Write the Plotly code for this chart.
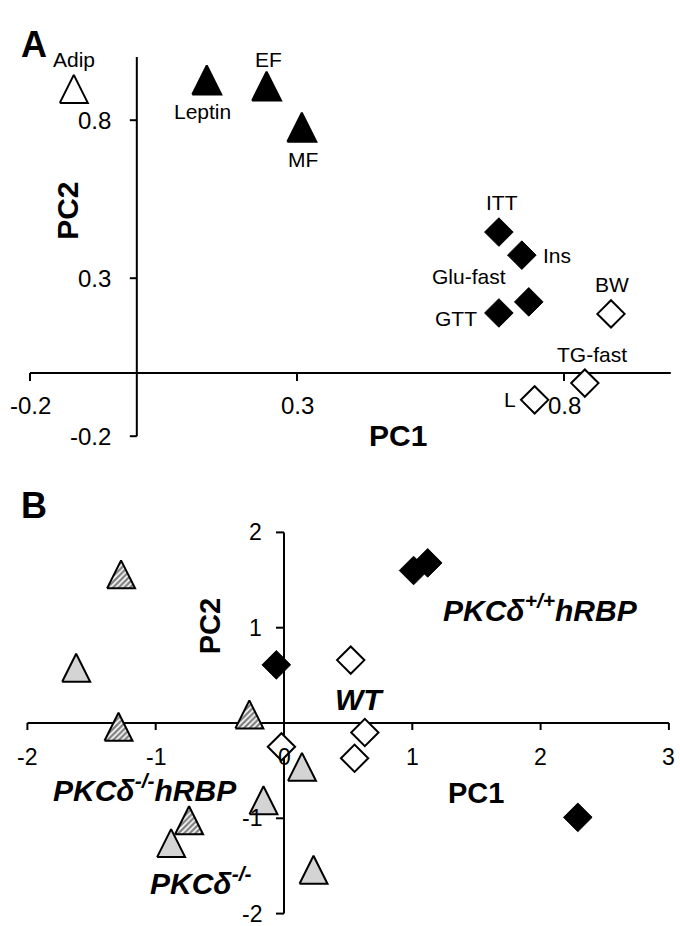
import plotly.graph_objects as go

# ---------------- DATA ----------------
# Panel A: loadings
A_tri_filled_names = ["Leptin", "EF", "MF"]
A_tri_filled_pc1 = [0.131, 0.243, 0.309]
A_tri_filled_pc2 = [0.927, 0.908, 0.778]

A_tri_open_names = ["Adip"]
A_tri_open_pc1 = [-0.118]
A_tri_open_pc2 = [0.899]

A_dia_filled_names = ["ITT", "Ins", "Glu-fast", "GTT"]
A_dia_filled_pc1 = [0.678, 0.721, 0.734, 0.678]
A_dia_filled_pc2 = [0.446, 0.373, 0.225, 0.190]

A_dia_open_names = ["BW", "TG-fast", "L"]
A_dia_open_pc1 = [0.888, 0.839, 0.745]
A_dia_open_pc2 = [0.187, -0.032, -0.085]

A_xticks = [-0.2, 0.3, 0.8]
A_xtick_labels = ["-0.2", "0.3", "0.8"]
A_yticks = [-0.2, 0.3, 0.8]
A_ytick_labels = ["-0.2", "0.3", "0.8"]

# Panel B: scores
B_wt_pc1 = [0.52, 0.63, 0.55, -0.02]
B_wt_pc2 = [0.66, -0.10, -0.37, -0.25]
B_hrbp_pc1 = [-0.06, 1.01, 1.12, 2.29]
B_hrbp_pc2 = [0.61, 1.60, 1.68, -0.99]
B_ko_pc1 = [-1.62, 0.14, -0.16, -0.88, 0.23]
B_ko_pc2 = [0.58, -0.46, -0.81, -1.26, -1.54]
B_kohrbp_pc1 = [-1.27, -1.29, -0.27, -0.74]
B_kohrbp_pc2 = [1.56, -0.04, 0.09, -1.02]

B_xticks = [-2, -1, 0, 1, 2, 3]
B_xtick_labels = ["-2", "-1", "0", "1", "2", "3"]
B_yticks = [-2, -1, 1, 2]
B_ytick_labels = ["-2", "-1", "1", "2"]

B_group_labels = ["<b><i>PKCδ<sup>+/+</sup>hRBP</i></b>", "<b><i>WT</i></b>",
                  "<b><i>PKCδ<sup>-/-</sup>hRBP</i></b>", "<b><i>PKCδ<sup>-/-</sup></i></b>"]

# ---------------- LAYOUT / STYLE ----------------
W, H = 680, 926
FONT = "Liberation Sans, Arial, sans-serif"
A_xrange = [-0.2562, 1.0172]
A_yrange = [-0.2848, 1.1804]
A_ydom = [0.5, 1.0]
B_xrange = [-2.2136, 3.0865]
B_yrange = [-2.1301, 2.7282]
B_ydom = [0.0, 0.5]
A_axis_x = [-0.2, 1.0]
A_axis_y = [-0.2, 1.0]
B_axis_x = [-2, 3]
B_axis_y = [-2, 2]

A_sx = W / (A_xrange[1] - A_xrange[0])
A_sy = H * (A_ydom[1] - A_ydom[0]) / (A_yrange[1] - A_yrange[0])
B_sx = W / (B_xrange[1] - B_xrange[0])
B_sy = H * (B_ydom[1] - B_ydom[0]) / (B_yrange[1] - B_yrange[0])

# label offsets (pixels) for panel A
A_label_shift = {
    "Adip": (0, 29), "Leptin": (-4, -31), "EF": (2, 27), "MF": (1, -32),
    "ITT": (3, 30), "Ins": (35, 0), "Glu-fast": (-60, 25), "GTT": (-43, -6),
    "BW": (1, 29), "TG-fast": (7, 29), "L": (-25, 0),
}
B_group_pos = [(2.00, 1.21), (0.585, 0.25), (-1.08, -0.68), (-0.65, -1.66)]


def tri_path(xs, ys, w_px, h_px, sx, sy):
    px, py = [], []
    dx = w_px / 2 / sx
    dy = h_px / 2 / sy
    for x, y in zip(xs, ys):
        px += [x - dx, x + dx, x, x - dx, None]
        py += [y - dy, y - dy, y + dy, y - dy, None]
    return px, py


fig = go.Figure()


def add_tri(xs, ys, sx, sy, size, xa, ya, fill, pattern=None):
    px, py = tri_path(xs, ys, size, size, sx, sy)
    kw = dict(x=px, y=py, mode="lines", fill="toself", fillcolor=fill,
              line=dict(color="black", width=2), xaxis=xa, yaxis=ya,
              hoverinfo="skip", showlegend=False)
    if pattern:
        kw["fillpattern"] = pattern
    fig.add_trace(go.Scatter(**kw))


def add_dia(xs, ys, size, xa, ya, fill, lw):
    fig.add_trace(go.Scatter(x=xs, y=ys, mode="markers", xaxis=xa, yaxis=ya,
                             marker=dict(symbol="diamond", size=size, color=fill,
                                         line=dict(color="black", width=lw)),
                             cliponaxis=False, showlegend=False))


# Panel A marks
add_dia(A_dia_filled_pc1, A_dia_filled_pc2, 22, "x", "y", "black", 1)
add_dia(A_dia_open_pc1, A_dia_open_pc2, 21, "x", "y", "white", 2)
add_tri(A_tri_filled_pc1, A_tri_filled_pc2, A_sx, A_sy, 29, "x", "y", "black")
add_tri(A_tri_open_pc1, A_tri_open_pc2, A_sx, A_sy, 28, "x", "y", "white")

# Panel B marks
add_dia(B_hrbp_pc1, B_hrbp_pc2, 22, "x2", "y2", "black", 1)
add_dia(B_wt_pc1, B_wt_pc2, 21, "x2", "y2", "white", 2)
add_tri(B_ko_pc1, B_ko_pc2, B_sx, B_sy, 28, "x2", "y2", "#d4d4d4")
add_tri(B_kohrbp_pc1, B_kohrbp_pc2, B_sx, B_sy, 28, "x2", "y2", "white",
        pattern=dict(shape="/", fgcolor="black", bgcolor="white", size=4, solidity=0.6))

shapes = []
annotations = []
LINE = dict(color="black", width=2)


def axis_shapes(xref, yref, ax_x, ax_y, xticks, yticks, xtlen, ytlen):
    out = [dict(type="line", xref=xref, yref=yref, x0=ax_x[0], x1=ax_x[1], y0=0, y1=0,
                line=LINE, layer="below"),
           dict(type="line", xref=xref, yref=yref, x0=0, x1=0, y0=ax_y[0], y1=ax_y[1],
                line=LINE, layer="below")]
    for t in xticks:
        out.append(dict(type="line", xref=xref, yref=yref, ysizemode="pixel", yanchor=0,
                        y0=-xtlen, y1=0, x0=t, x1=t, line=LINE, layer="below"))
    for t in yticks:
        out.append(dict(type="line", xref=xref, yref=yref, xsizemode="pixel", xanchor=0,
                        x0=-ytlen, x1=0, y0=t, y1=t, line=LINE, layer="below"))
    return out


shapes += axis_shapes("x", "y", A_axis_x, A_axis_y, A_xticks, A_yticks, 8, 7)
shapes += axis_shapes("x2", "y2", B_axis_x, B_axis_y, B_xticks, B_yticks, 7, 8)

TICKFONT = dict(family=FONT, size=24, color="black")
for t, lab in zip(A_xticks, A_xtick_labels):
    annotations.append(dict(x=t, y=0, xref="x", yref="y", text=lab, showarrow=False,
                            yshift=-32, font=TICKFONT, xanchor="center", yanchor="middle"))
for t, lab in zip(A_yticks, A_ytick_labels):
    annotations.append(dict(x=0, y=t, xref="x", yref="y", text=lab, showarrow=False,
                            xshift=-24, font=TICKFONT, xanchor="right", yanchor="middle"))
TICKFONT_B = dict(family=FONT, size=23, color="black")
for t, lab in zip(B_xticks, B_xtick_labels):
    annotations.append(dict(x=t, y=0, xref="x2", yref="y2", text=lab, showarrow=False,
                            yshift=-34, font=TICKFONT_B, xanchor="center", yanchor="middle"))
for t, lab in zip(B_yticks, B_ytick_labels):
    annotations.append(dict(x=0, y=t, xref="x2", yref="y2", text=lab, showarrow=False,
                            xshift=-20, font=TICKFONT_B, xanchor="right", yanchor="middle"))

# point labels panel A
LABFONT = dict(family=FONT, size=21, color="black")
for names, xs, ys in [(A_tri_filled_names, A_tri_filled_pc1, A_tri_filled_pc2),
                      (A_tri_open_names, A_tri_open_pc1, A_tri_open_pc2),
                      (A_dia_filled_names, A_dia_filled_pc1, A_dia_filled_pc2),
                      (A_dia_open_names, A_dia_open_pc1, A_dia_open_pc2)]:
    for n, x, y in zip(names, xs, ys):
        dx, dy = A_label_shift[n]
        annotations.append(dict(x=x, y=y, xref="x", yref="y", text=n, showarrow=False,
                                xshift=dx, yshift=dy, font=LABFONT,
                                xanchor="center", yanchor="middle"))

# axis titles
TITLEFONT = dict(family=FONT, size=30, color="black")
TITLEFONT_B = dict(family=FONT, size=29, color="black")
annotations += [
    dict(x=0.489, y=-0.199, xref="x", yref="y", text="<b>PC1</b>", showarrow=False, font=TITLEFONT),
    dict(x=-0.129, y=0.513, xref="x", yref="y", text="<b>PC2</b>", showarrow=False, font=TITLEFONT, textangle=-90),
    dict(x=1.50, y=-0.73, xref="x2", yref="y2", text="<b>PC1</b>", showarrow=False, font=TITLEFONT_B),
    dict(x=-0.58, y=1.01, xref="x2", yref="y2", text="<b>PC2</b>", showarrow=False, font=TITLEFONT_B, textangle=-90),
]

GROUPFONT = dict(family=FONT, size=30, color="black")
for lab, (gx, gy) in zip(B_group_labels, B_group_pos):
    annotations.append(dict(x=gx, y=gy, xref="x2", yref="y2", text=lab, showarrow=False,
                            font=GROUPFONT))

PANELFONT = dict(family=FONT, size=36, color="black")
annotations += [
    dict(x=19 / W, y=1 - 22 / H, xref="paper", yref="paper", text="<b>A</b>", showarrow=False, font=PANELFONT),
    dict(x=19 / W, y=1 - 505 / H, xref="paper", yref="paper", text="<b>B</b>", showarrow=False, font=PANELFONT),
]

noax = dict(visible=False, showgrid=False, zeroline=False, fixedrange=True)
fig.update_layout(
    width=W, height=H, margin=dict(l=0, r=0, t=0, b=0),
    paper_bgcolor="white", plot_bgcolor="white",
    xaxis=dict(domain=[0, 1], range=A_xrange, anchor="y", **noax),
    yaxis=dict(domain=A_ydom, range=A_yrange, anchor="x", **noax),
    xaxis2=dict(domain=[0, 1], range=B_xrange, anchor="y2", **noax),
    yaxis2=dict(domain=B_ydom, range=B_yrange, anchor="x2", **noax),
    shapes=shapes, annotations=annotations, showlegend=False,
)

fig.write_html("out.html", config={"displayModeBar": False},
               post_script="document.body.style.margin='0px';")
